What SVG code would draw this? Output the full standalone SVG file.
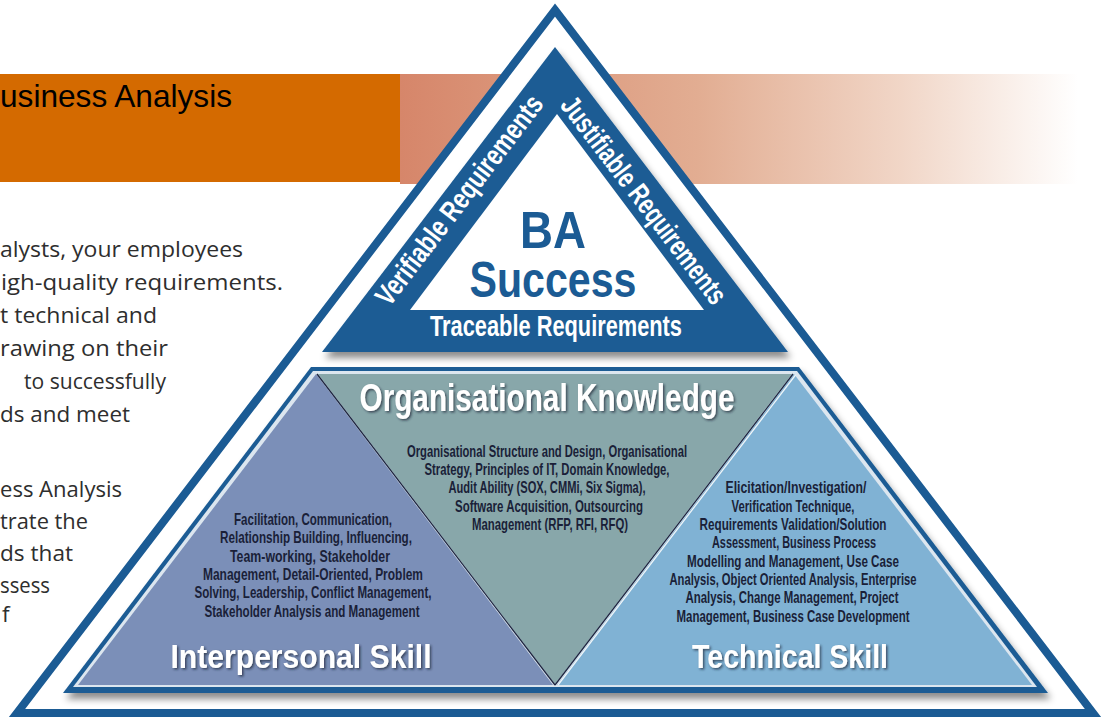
<svg xmlns="http://www.w3.org/2000/svg" width="1104" height="721" viewBox="0 0 1104 721">
<defs>
<linearGradient id="peach" x1="400" y1="0" x2="1078" y2="0" gradientUnits="userSpaceOnUse">
<stop offset="0" stop-color="#d6866a"/>
<stop offset="0.44" stop-color="#e2ad92"/>
<stop offset="0.74" stop-color="#f1d6c7"/>
<stop offset="1" stop-color="#ffffff"/>
</linearGradient>
<filter id="shadow" x="-10%" y="-10%" width="120%" height="130%">
<feDropShadow dx="3" dy="6" stdDeviation="3.5" flood-color="#000" flood-opacity="0.45"/>
</filter>
<filter id="tshadow" x="-5%" y="-20%" width="110%" height="150%">
<feDropShadow dx="1.5" dy="1.5" stdDeviation="1" flood-color="#1a2233" flood-opacity="0.7"/>
</filter>
<style>
.intro{font-family:"Open Sans","Noto Sans",sans-serif;font-size:22.5px;fill:#2e2e2e}
.cond{font-family:"Liberation Sans Narrow","Liberation Sans",sans-serif;font-weight:bold}
.band{fill:#ffffff;font-size:29px}
.head{fill:#ffffff;filter:url(#tshadow)}
.body{font-family:"Liberation Sans Narrow","Liberation Sans",sans-serif;font-size:16.5px;font-weight:bold;fill:#1a1f38;text-anchor:middle}
.blue{fill:#1b5b94}
.div{stroke:#1d2540;stroke-width:1.3;fill:none}
</style>
</defs>
<rect width="1104" height="721" fill="#ffffff"/>
<g id="header">
<rect x="400" y="74" width="678" height="110" fill="url(#peach)"/>
<rect x="0" y="74" width="400" height="108" fill="#d46a00"/>
<text x="0" y="107" font-family="Liberation Sans, Arial, sans-serif" font-size="31.5" fill="#000" textLength="232" lengthAdjust="spacingAndGlyphs">usiness Analysis</text>
</g>
<g id="intro-text" class="intro">
<text x="0" y="257" textLength="243" lengthAdjust="spacingAndGlyphs">alysts, your employees</text>
<text x="1" y="290" textLength="282" lengthAdjust="spacingAndGlyphs">igh-quality requirements.</text>
<text x="0" y="323" textLength="157" lengthAdjust="spacingAndGlyphs">t technical and</text>
<text x="0" y="356" textLength="168" lengthAdjust="spacingAndGlyphs">rawing on their</text>
<text x="24" y="389" textLength="142" lengthAdjust="spacingAndGlyphs">to successfully</text>
<text x="0" y="422" textLength="130" lengthAdjust="spacingAndGlyphs">ds and meet</text>
<text x="0" y="497" textLength="122" lengthAdjust="spacingAndGlyphs">ess Analysis</text>
<text x="0" y="529" textLength="88" lengthAdjust="spacingAndGlyphs">trate the</text>
<text x="0" y="561" textLength="73" lengthAdjust="spacingAndGlyphs">ds that</text>
<text x="0" y="593" textLength="50" lengthAdjust="spacingAndGlyphs">ssess</text>
<text x="2" y="622">f</text>
</g>
<g id="pyramid-frame">
<path d="M555,10 L1093,713 L17,713 Z" fill="#ffffff" stroke="#1b5b94" stroke-width="8" stroke-linejoin="miter"/>
</g>
<g id="ba-success">
<path d="M555,47 L788,352 L322,352 Z" class="blue" filter="url(#shadow)"/>
<path d="M557,114 L704,310 L410,310 Z" fill="#ffffff"/>
<text class="cond blue" x="553" y="248" font-size="51" text-anchor="middle" textLength="66" lengthAdjust="spacingAndGlyphs">BA</text>
<text class="cond blue" x="553" y="297" font-size="50" text-anchor="middle" textLength="167" lengthAdjust="spacingAndGlyphs">Success</text>
<text class="cond band" x="556" y="336" text-anchor="middle" textLength="252" lengthAdjust="spacingAndGlyphs">Traceable Requirements</text>
<text class="cond band" transform="translate(459,200) rotate(-52.6)" x="0" y="10" text-anchor="middle" textLength="256" lengthAdjust="spacingAndGlyphs">Verifiable Requirements</text>
<text class="cond band" transform="translate(644,200) rotate(52.6)" x="0" y="10" text-anchor="middle" textLength="253" lengthAdjust="spacingAndGlyphs">Justifiable Requirements</text>
</g>
<g id="skills-base">
<path d="M311,367 L799,367 L1048,693 L63,693 Z" fill="#1b5b94" filter="url(#shadow)"/>
<path d="M313,371 L797,371 L1037,687 L73,687 Z" fill="#dce6ef"/>
</g>
<g id="interpersonal">
<path d="M316,374 L553,685 L78,685 Z" fill="#7b8fb8"/>
<g class="body">
<text x="313" y="525" textLength="158" lengthAdjust="spacingAndGlyphs">Facilitation, Communication,</text>
<text x="316" y="543" textLength="192" lengthAdjust="spacingAndGlyphs">Relationship Building, Influencing,</text>
<text x="310" y="562" textLength="160" lengthAdjust="spacingAndGlyphs">Team-working, Stakeholder</text>
<text x="313" y="580" textLength="220" lengthAdjust="spacingAndGlyphs">Management, Detail-Oriented, Problem</text>
<text x="313" y="598" textLength="237" lengthAdjust="spacingAndGlyphs">Solving, Leadership, Conflict Management,</text>
<text x="312" y="617" textLength="215" lengthAdjust="spacingAndGlyphs">Stakeholder Analysis and Management</text>
</g>
<text class="cond head" x="301" y="668" font-size="34" text-anchor="middle" textLength="261" lengthAdjust="spacingAndGlyphs">Interpersonal Skill</text>
</g>
<g id="org-knowledge">
<path d="M318,374 L792,374 L555,684 Z" fill="#88a7aa"/>
<text class="cond head" x="547" y="411" font-size="38" text-anchor="middle" textLength="375" lengthAdjust="spacingAndGlyphs">Organisational Knowledge</text>
<g class="body">
<text x="547" y="457" textLength="280" lengthAdjust="spacingAndGlyphs">Organisational Structure and Design, Organisational</text>
<text x="547" y="475" textLength="245" lengthAdjust="spacingAndGlyphs">Strategy, Principles of IT, Domain Knowledge,</text>
<text x="547" y="493" textLength="197" lengthAdjust="spacingAndGlyphs">Audit Ability (SOX, CMMi, Six Sigma),</text>
<text x="549" y="512" textLength="188" lengthAdjust="spacingAndGlyphs">Software Acquisition, Outsourcing</text>
<text x="550" y="530" textLength="156" lengthAdjust="spacingAndGlyphs">Management (RFP, RFI, RFQ)</text>
</g>
</g>
<g id="technical">
<path d="M794,374 L1032,685 L557,685 Z" fill="#80b2d4"/>
<g class="body">
<text x="796" y="493" textLength="141" lengthAdjust="spacingAndGlyphs">Elicitation/Investigation/</text>
<text x="793" y="512" textLength="123" lengthAdjust="spacingAndGlyphs">Verification Technique,</text>
<text x="793" y="530" textLength="187" lengthAdjust="spacingAndGlyphs">Requirements Validation/Solution</text>
<text x="794" y="548" textLength="164" lengthAdjust="spacingAndGlyphs">Assessment, Business Process</text>
<text x="793" y="567" textLength="212" lengthAdjust="spacingAndGlyphs">Modelling and Management, Use Case</text>
<text x="793" y="585" textLength="247" lengthAdjust="spacingAndGlyphs">Analysis, Object Oriented Analysis, Enterprise</text>
<text x="792" y="603" textLength="213" lengthAdjust="spacingAndGlyphs">Analysis, Change Management, Project</text>
<text x="793" y="622" textLength="233" lengthAdjust="spacingAndGlyphs">Management, Business Case Development</text>
</g>
<text class="cond head" x="790" y="668" font-size="34" text-anchor="middle" textLength="196" lengthAdjust="spacingAndGlyphs">Technical Skill</text>
</g>
<g id="connectors">
<line x1="317" y1="374" x2="555" y2="685" class="div"/>
<line x1="793" y1="374" x2="555" y2="685" class="div"/>
<line x1="795.5" y1="375" x2="558" y2="685" stroke="#eef4f8" stroke-width="1.3"/>
</g>
</svg>
